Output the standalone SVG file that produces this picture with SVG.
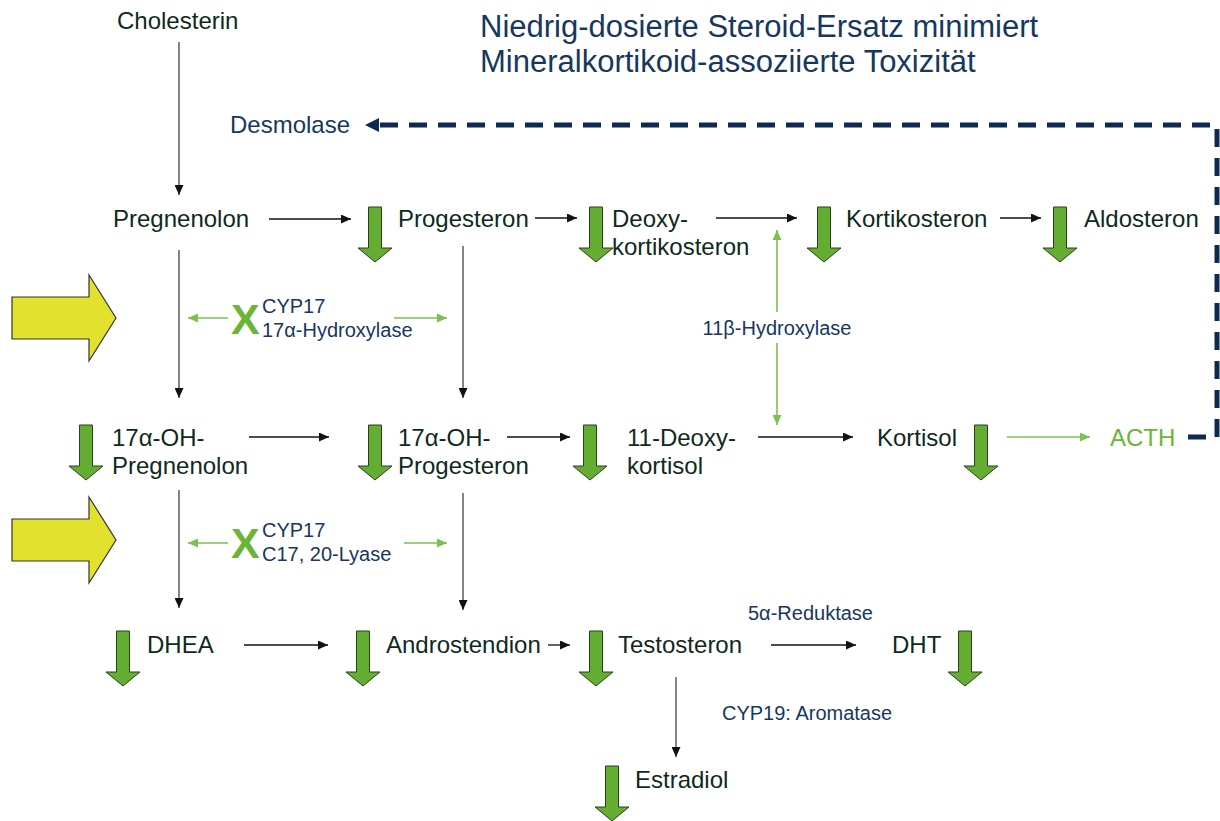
<svg xmlns="http://www.w3.org/2000/svg" width="1220" height="821" viewBox="0 0 1220 821">
<style>
text{font-family:"Liberation Sans",Arial,sans-serif}
.n{font-size:24px;fill:#0f2a1c}
.e{font-size:20px;fill:#17375e}
.t{font-size:31px;fill:#17375e}
.x{font-size:43px;font-weight:bold;fill:#6ab536}
.bl{stroke:#111;stroke-width:1.3;fill:none}
.vl{stroke:#444;stroke-width:1.3;fill:none}
.gl{stroke:#7cc04f;stroke-width:1.6;fill:none}
.ga{fill:#64ad33;stroke:#2b3f1c;stroke-width:1}
.ya{fill:#e1e12e;stroke:#333;stroke-width:1.2}
</style>
<defs>
<marker id="mb" markerUnits="userSpaceOnUse" markerWidth="11" markerHeight="9" refX="10" refY="4.5" orient="auto"><path d="M0,0 L10,4.5 L0,9 Z" fill="#111"/></marker>
<marker id="mg" markerUnits="userSpaceOnUse" markerWidth="11" markerHeight="9" refX="10" refY="4.5" orient="auto"><path d="M0,0 L10,4.5 L0,9 Z" fill="#7cc04f"/></marker>
<marker id="mgs" markerUnits="userSpaceOnUse" markerWidth="11" markerHeight="9" refX="0" refY="4.5" orient="auto"><path d="M10,0 L0,4.5 L10,9 Z" fill="#7cc04f"/></marker>
<marker id="md" markerUnits="userSpaceOnUse" markerWidth="14" markerHeight="14" refX="4" refY="7" orient="auto"><path d="M0,0 L14,7 L0,14 Z" fill="#0e2a50"/></marker>
<path id="gar" class="ga" d="M-6.5,0 H6.5 V41 H17 L0,55 L-17,41 H-6.5 Z"/>
</defs>

<g id="title">
<text class="t" x="480" y="37">Niedrig-dosierte Steroid-Ersatz minimiert</text>
<text class="t" x="480" y="72">Mineralkortikoid-assoziierte Toxizität</text>
</g>

<g id="connectors">
<line class="vl" x1="179" y1="42" x2="179" y2="195" marker-end="url(#mb)"/>
<line class="vl" x1="179" y1="250" x2="179" y2="398" marker-end="url(#mb)"/>
<line class="vl" x1="463" y1="246" x2="463" y2="398" marker-end="url(#mb)"/>
<line class="vl" x1="179" y1="490" x2="179" y2="608" marker-end="url(#mb)"/>
<line class="vl" x1="463" y1="493" x2="463" y2="610" marker-end="url(#mb)"/>
<line class="vl" x1="676" y1="677" x2="676" y2="757" marker-end="url(#mb)"/>
<line class="bl" x1="269" y1="219" x2="351" y2="219" marker-end="url(#mb)"/>
<line class="bl" x1="535" y1="218" x2="577" y2="218" marker-end="url(#mb)"/>
<line class="bl" x1="716" y1="218" x2="797" y2="218" marker-end="url(#mb)"/>
<line class="bl" x1="1000" y1="218" x2="1041" y2="218" marker-end="url(#mb)"/>
<line class="bl" x1="249" y1="437" x2="329" y2="437" marker-end="url(#mb)"/>
<line class="bl" x1="507" y1="437" x2="570" y2="437" marker-end="url(#mb)"/>
<line class="bl" x1="758" y1="437" x2="853" y2="437" marker-end="url(#mb)"/>
<line class="bl" x1="244" y1="645" x2="328" y2="645" marker-end="url(#mb)"/>
<line class="bl" x1="548" y1="645" x2="570" y2="645" marker-end="url(#mb)"/>
<line class="bl" x1="771" y1="645" x2="856" y2="645" marker-end="url(#mb)"/>
<line class="gl" x1="1007" y1="437" x2="1090" y2="437" marker-end="url(#mg)"/>
<line class="gl" x1="777" y1="230" x2="777" y2="312" marker-start="url(#mgs)"/>
<line class="gl" x1="777" y1="343" x2="777" y2="425" marker-end="url(#mg)"/>
<line class="gl" x1="188" y1="318" x2="228" y2="318" marker-start="url(#mgs)"/>
<line class="gl" x1="394" y1="318" x2="447" y2="318" marker-end="url(#mg)"/>
<line class="gl" x1="188" y1="543" x2="228" y2="543" marker-start="url(#mgs)"/>
<line class="gl" x1="404" y1="543" x2="447" y2="543" marker-end="url(#mg)"/>
<path d="M1188,437 H1217 V125 H375" fill="none" stroke="#0e2a50" stroke-width="5" stroke-dasharray="18 11" marker-end="url(#md)"/>
</g>

<g id="yellow-arrows">
<path class="ya" d="M12,297 H89 V275 L116,318 L89,361 V339 H12 Z"/>
<path class="ya" d="M12,519 H89 V497 L116,540 L89,583 V561 H12 Z"/>
</g>

<g id="green-arrows">
<use href="#gar" x="375" y="207"/>
<use href="#gar" x="596" y="207"/>
<use href="#gar" x="824" y="207"/>
<use href="#gar" x="1060" y="207"/>
<use href="#gar" x="86" y="425"/>
<use href="#gar" x="375" y="425"/>
<use href="#gar" x="590" y="425"/>
<use href="#gar" x="981" y="425"/>
<use href="#gar" x="123" y="631"/>
<use href="#gar" x="363" y="631"/>
<use href="#gar" x="596" y="631"/>
<use href="#gar" x="965" y="631"/>
<use href="#gar" x="612" y="766"/>
</g>

<g id="cholesterin"><text class="n" x="117" y="29">Cholesterin</text></g>
<g id="desmolase"><text class="n" x="230" y="133" style="fill:#17375e">Desmolase</text></g>
<g id="pregnenolon"><text class="n" x="113" y="227">Pregnenolon</text></g>
<g id="progesteron"><text class="n" x="398" y="227">Progesteron</text></g>
<g id="deoxykortikosteron"><text class="n" x="612" y="227">Deoxy-</text><text class="n" x="612" y="255">kortikosteron</text></g>
<g id="kortikosteron"><text class="n" x="846" y="227">Kortikosteron</text></g>
<g id="aldosteron"><text class="n" x="1084" y="227">Aldosteron</text></g>

<g id="cyp17-hydroxylase">
<text class="x" x="231" y="334">X</text>
<text class="e" x="262" y="313">CYP17</text>
<text class="e" x="262" y="337">17α-Hydroxylase</text>
</g>
<g id="hydroxylase11b"><text class="e" x="777" y="335" text-anchor="middle">11β-Hydroxylase</text></g>

<g id="oh-pregnenolon"><text class="n" x="112" y="446">17α-OH-</text><text class="n" x="112" y="474">Pregnenolon</text></g>
<g id="oh-progesteron"><text class="n" x="398" y="446">17α-OH-</text><text class="n" x="398" y="474">Progesteron</text></g>
<g id="deoxykortisol"><text class="n" x="627" y="446">11-Deoxy-</text><text class="n" x="627" y="474">kortisol</text></g>
<g id="kortisol"><text class="n" x="877" y="446">Kortisol</text></g>
<g id="acth"><text class="n" x="1110" y="446" style="fill:#6ab536">ACTH</text></g>

<g id="cyp17-lyase">
<text class="x" x="231" y="558">X</text>
<text class="e" x="262" y="537">CYP17</text>
<text class="e" x="262" y="561">C17, 20-Lyase</text>
</g>

<g id="dhea"><text class="n" x="147" y="653">DHEA</text></g>
<g id="androstendion"><text class="n" x="386" y="653">Androstendion</text></g>
<g id="testosteron"><text class="n" x="618" y="653">Testosteron</text></g>
<g id="dht"><text class="n" x="892" y="653">DHT</text></g>
<g id="reduktase"><text class="e" x="748" y="620">5α-Reduktase</text></g>
<g id="aromatase"><text class="e" x="722" y="720">CYP19: Aromatase</text></g>
<g id="estradiol"><text class="n" x="635" y="788">Estradiol</text></g>
</svg>
